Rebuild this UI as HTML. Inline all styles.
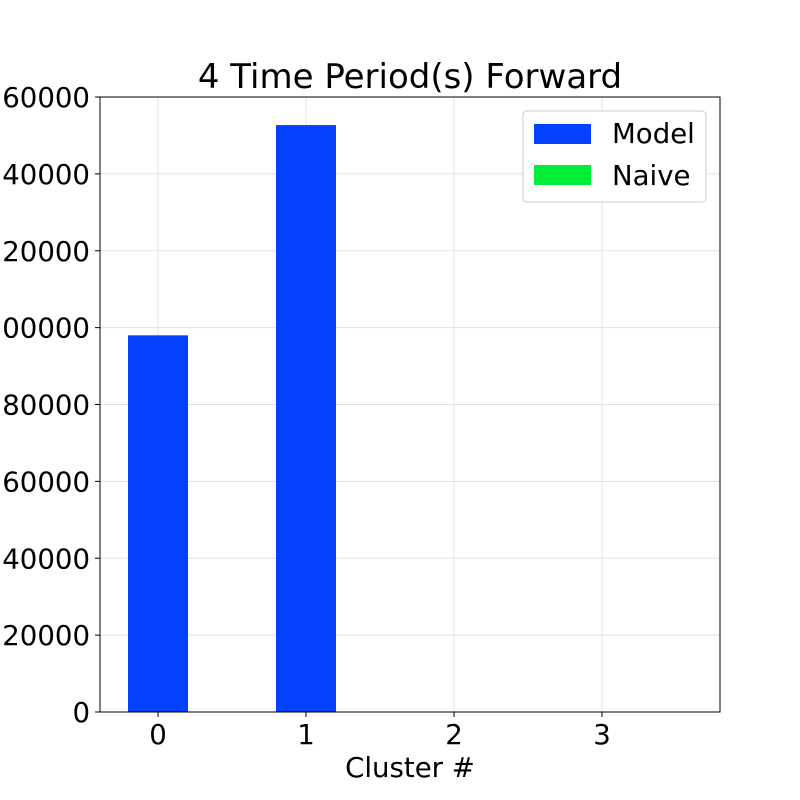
<!DOCTYPE html>
<html><head><meta charset="utf-8"><style>
body{margin:0;background:#fff;}
svg{display:block;font-family:"DejaVu Sans","Liberation Sans",sans-serif;}
</style></head><body>
<svg id="chart" width="800" height="800">
<rect width="800" height="800" fill="#fff"/>
<text x="410" y="88" font-size="34" text-anchor="middle">4 Time Period(s) Forward</text>
<g id="grid"></g>
<g id="bars"></g>
<rect x="100" y="97" width="620" height="615" fill="none" stroke="#000" stroke-width="1"/>
<g id="axes"></g>
<text x="410" y="777" font-size="27.6" text-anchor="middle">Cluster #</text>
<g>
<rect x="523" y="111" width="183" height="91" rx="4" fill="#fff" stroke="#ccc"/>
<rect x="534" y="124" width="57" height="20" fill="#0340ff"/>
<text x="612" y="143" font-size="27.6">Model</text>
<rect x="534" y="165" width="57" height="20" fill="#00ee3a"/>
<text x="612" y="185" font-size="27.6">Naive</text>
</g>
</svg>
<script>
const categories = ["0","1","2","3"];
const modelValues = [98000, 152700, 0, 0];
const naiveValues = [0, 0, 0, 0];
const yTicks = [0,20000,40000,60000,80000,100000,120000,140000,160000];
const NS="http://www.w3.org/2000/svg";
const x0=100,x1=720,y0=712,y1=97,yMax=160000;
const y=v=>y0-(v/yMax)*(y0-y1);
const xc=i=>158+i*148;
const bw=60;
function mk(tag,attrs,parent){const e=document.createElementNS(NS,tag);for(const k in attrs)e.setAttribute(k,attrs[k]);parent.appendChild(e);return e;}
const grid=document.getElementById('grid'),bars=document.getElementById('bars'),axes=document.getElementById('axes');
yTicks.forEach(t=>{
 const l=mk('line',{x1:x0,x2:x1,y1:y(t),y2:y(t),stroke:'#e0e0e0','stroke-width':1},grid);
 
 
 const tk=mk('line',{x1:x0-5,x2:x0,y1:y(t),y2:y(t),stroke:'#000'},axes);
 
 
 const tx=mk('text',{x:x0-10,y:y(t)+10,'font-size':27.6,'text-anchor':'end'},axes);
 tx.textContent=t;
 
 
});
categories.forEach((c,i)=>{
 const l=mk('line',{x1:xc(i),x2:xc(i),y1:y0,y2:y1,stroke:'#e0e0e0'},grid);
 
 
 const m=mk('rect',{x:xc(i)-bw/2,y:y(modelValues[i]),width:bw,height:y0-y(modelValues[i]),fill:'#0340ff'},bars);
 
 
 const n=mk('rect',{x:xc(i)+bw/2,y:y(naiveValues[i]),width:bw,height:y0-y(naiveValues[i]),fill:'#00ee3a'},bars);
 
 
 const tk=mk('line',{x1:xc(i),x2:xc(i),y1:y0,y2:y0+5,stroke:'#000'},axes);
 
 
 const tx=mk('text',{x:xc(i),y:y0+32,'font-size':27.6,'text-anchor':'middle'},axes);
 tx.textContent=c;
 
 
});
</script>
</body></html>
